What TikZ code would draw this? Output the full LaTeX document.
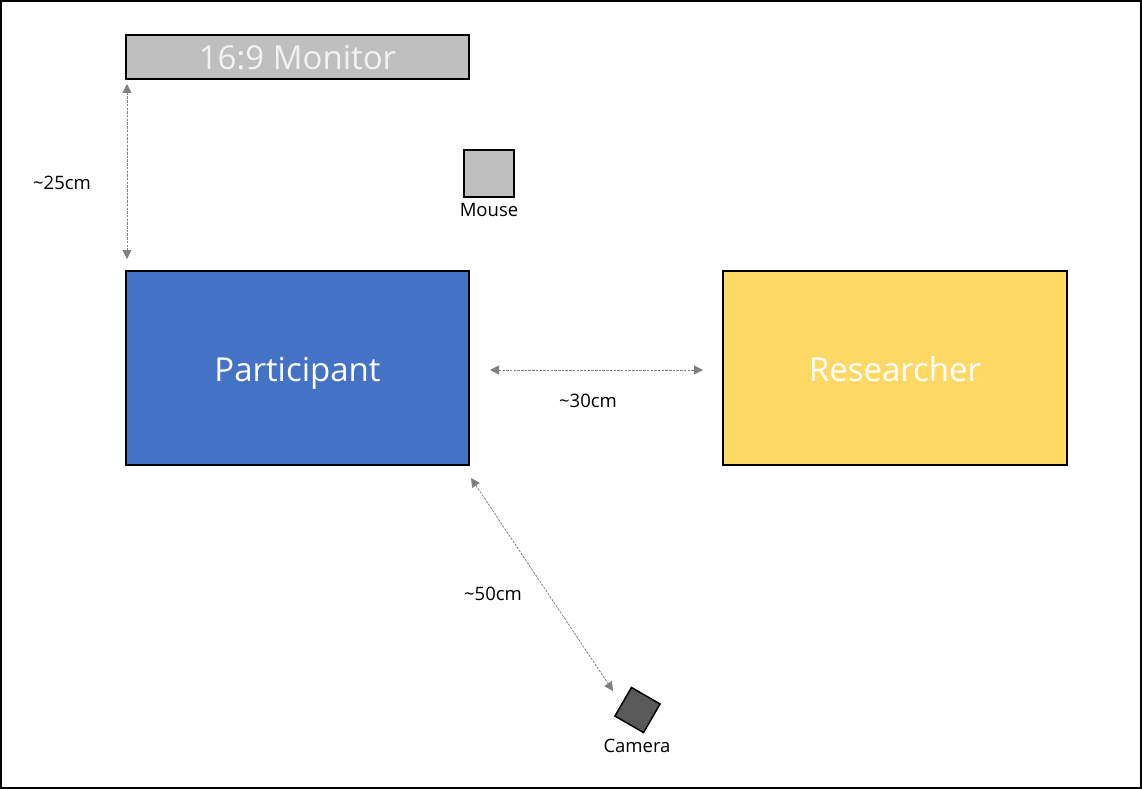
\documentclass[tikz,border=0pt]{standalone}
\usepackage{fontspec}
\setmainfont{Open Sans}
\usetikzlibrary{arrows.meta}
\definecolor{mongray}{HTML}{BFBFBF}
\definecolor{partblue}{HTML}{4472C4}
\definecolor{resyellow}{HTML}{FFD966}
\definecolor{camgray}{HTML}{595959}
\definecolor{arrgray}{HTML}{808080}
\definecolor{montext}{HTML}{F2F2F2}
\tikzset{
  box/.style={draw=black, line width=1.5pt, inner sep=0pt, outer sep=0pt},
  bigtext/.style={font=\fontsize{33}{38}\selectfont, text height=26pt, text depth=0pt},
  small/.style={font=\fontsize{18.5}{22}\selectfont, text=black},
  dimarrow/.style={draw=arrgray, line width=0.8pt, dash pattern=on 2.5pt off 1.2pt,
    {Triangle[length=9pt,width=9pt,fill=arrgray]}-{Triangle[length=9pt,width=9pt,fill=arrgray]}}
}
\begin{document}
\begin{tikzpicture}[x=1pt,y=-1pt]
\useasboundingbox (0,0) rectangle (1142,789);
\draw[line width=2pt] (1,1) rectangle (1141,788);
% monitor
\node[box, fill=mongray, minimum width=343, minimum height=44, text=montext, bigtext] (mon) at (297.5,57) {16:9 Monitor};
% mouse
\node[box, fill=mongray, minimum width=50, minimum height=47] (mouse) at (489,173.5) {};
\node[small, anchor=north] (mouselbl) at (489,200) {Mouse};
% participant
\node[box, fill=partblue, minimum width=343, minimum height=194, text=white, bigtext] (part) at (297.5,368) {Participant};
% researcher
\node[box, fill=resyellow, minimum width=344, minimum height=194, text=white, bigtext] (res) at (895,368) {Researcher};
% camera
\node[box, fill=camgray, minimum width=33, minimum height=33, rotate=-30] (cam) at (637.5,710) {};
\node[small, anchor=north] (camlbl) at (637,736) {Camera};
% arrows
\coordinate (a1) at (127,84);
\coordinate (a2) at (127,259);
\draw[dimarrow] (a1) -- (a2);
\node[small] (l25) at (62,183) {\textasciitilde25cm};
\coordinate (b1) at (490,370);
\coordinate (b2) at (703,370);
\draw[dimarrow] (b1) -- (b2);
\node[small] (l30) at (588,401) {\textasciitilde30cm};
\coordinate (c1) at (471,478);
\coordinate (c2) at (613,691);
\draw[dimarrow] (c1) -- (c2);
\node[small] (l50) at (493,594) {\textasciitilde50cm};
\end{tikzpicture}
\end{document}
